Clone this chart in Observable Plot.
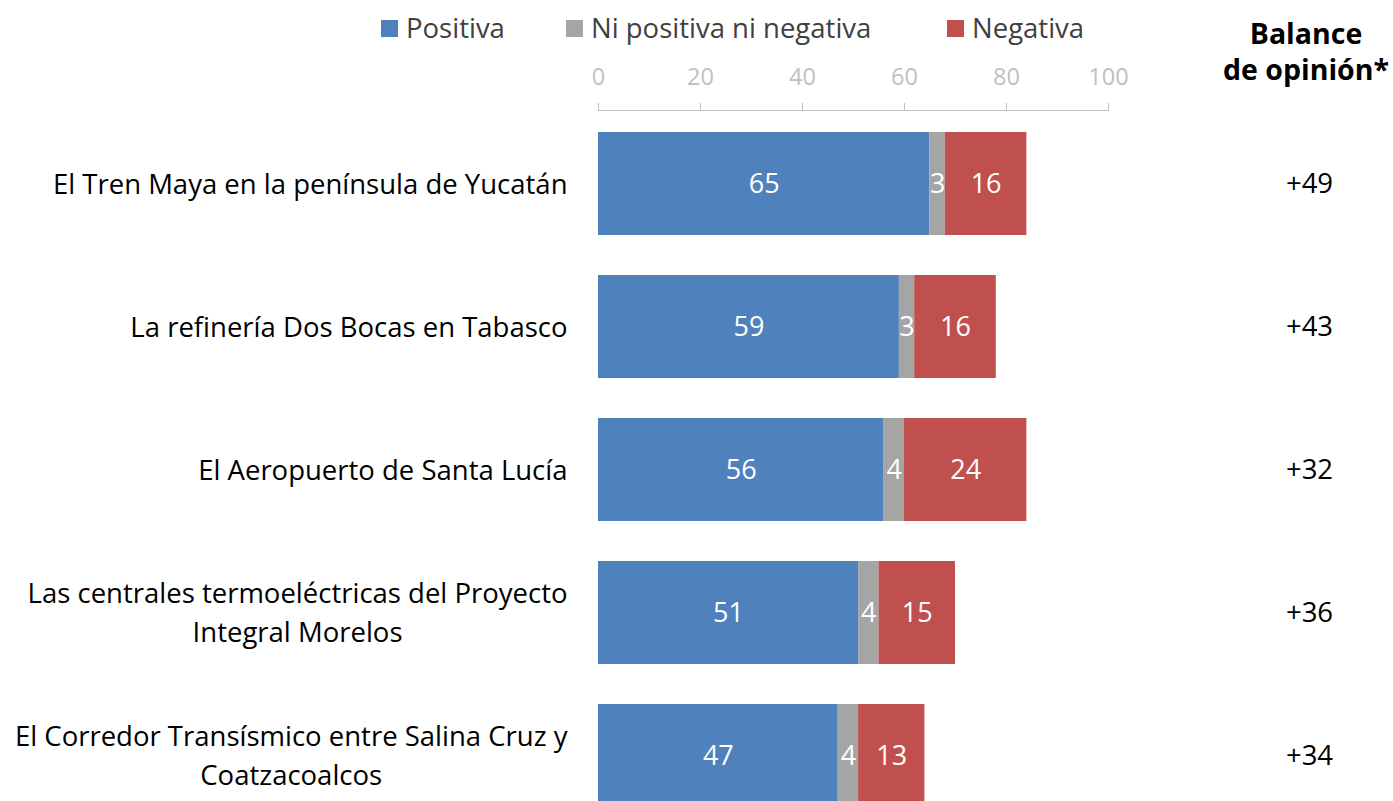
<!DOCTYPE html>
<html>
<head>
<meta charset="utf-8">
<script src="https://cdn.jsdelivr.net/npm/d3@7"></script>
<script src="https://cdn.jsdelivr.net/npm/@observablehq/plot@0.6"></script>
<style>
  body { margin:0; width:1393px; height:801px; overflow:hidden; position:relative; background:#fff; font-family:"Open Sans", sans-serif; }
  #legend { position:relative; height:52px; }
  .item { position:absolute; top:9px; display:flex; align-items:center; font-size:27.5px; color:#404040; line-height:38px; }
  .sw { width:17px; height:17px; margin-right:8px; }
  #header { position:absolute; left:1156px; width:300px; top:15px; text-align:center; font-weight:bold; font-size:28.5px; line-height:36px; color:#000; }
</style>
</head>
<body>
<div id="legend"></div>
<div id="header">Balance<br>de opinión*</div>
<div id="chart"></div>
<script>
const categories = [
  "El Tren Maya en la península de Yucatán",
  "La refinería Dos Bocas en Tabasco",
  "El Aeropuerto de Santa Lucía",
  "Las centrales termoeléctricas del Proyecto\nIntegral Morelos",
  "El Corredor Transísmico entre Salina Cruz y\nCoatzacoalcos"
];
const seriesNames = ["Positiva", "Ni positiva ni negativa", "Negativa"];
const colors = ["#4f81bd", "#a5a5a5", "#c0504d"];
const positiva = [65, 59, 56, 51, 47];
const neutral = [3, 3, 4, 4, 4];
const negativa = [16, 16, 24, 15, 13];
const balance = [49, 43, 32, 36, 34];
const xTicks = [0, 20, 40, 60, 80, 100];

// legend (HTML)
const legendLefts = [381, 566, 947];
const legend = document.getElementById("legend");
seriesNames.forEach((s, i) => {
  const d = document.createElement("div");
  d.className = "item";
  d.style.left = legendLefts[i] + "px";
  d.innerHTML = `<div class="sw" style="background:${colors[i]}"></div><span>${s}</span>`;
  legend.appendChild(d);
});

const seriesValues = [positiva, neutral, negativa];
const table = [];
categories.forEach((c, i) => {
  seriesNames.forEach((s, j) => table.push({category: c, series: s, value: seriesValues[j][i]}));
});
const balanceTable = categories.map((c, i) => ({category: c, balance: balance[i]}));

// measure label widths to right-align blocks while centering lines
const canvas = document.createElement("canvas");
const ctx = canvas.getContext("2d");
const labelSize = 27.5;
ctx.font = `${labelSize}px "Open Sans"`;
const labelMarks = categories.map(c => {
  const maxW = d3.max(c.split("\n"), l => ctx.measureText(l).width);
  return Plot.text([c], {
    y: d => d, text: d => d, frameAnchor: "left", textAnchor: "middle",
    dx: -(31 + maxW / 2), dy: -3, fontSize: labelSize, lineHeight: 1.42, fill: "#000"
  });
});

const chart = Plot.plot({
  width: 1393, height: 776,
  marginLeft: 598, marginRight: 285, marginTop: 58, marginBottom: 0,
  style: {fontFamily: '"Open Sans", sans-serif', background: "#fff"},
  x: {domain: [0, 100], axis: null},
  y: {domain: categories, axis: null, paddingInner: 0.281, paddingOuter: 0.1466},
  color: {domain: seriesNames, range: colors},
  marks: [
    Plot.frame({anchor: "top", stroke: "#bfbfbf"}),
    Plot.axisX({anchor: "top", ticks: xTicks, tickSize: 8, tickPadding: 17.5, color: "#bfbfbf", fontSize: 23.5, label: null}),
    Plot.barX(table, {x: "value", y: "category", fill: "series"}),
    Plot.text(table, Plot.stackX({x: "value", y: "category", text: "value", fill: "white", fontSize: 27})),
    ...labelMarks,
    Plot.text(balanceTable, {y: "category", text: d => "+" + d.balance, frameAnchor: "right", dx: 201, textAnchor: "middle", fontSize: 27.5, fill: "#000"})
  ]
});
document.getElementById("chart").appendChild(chart);
</script>
</body>
</html>
